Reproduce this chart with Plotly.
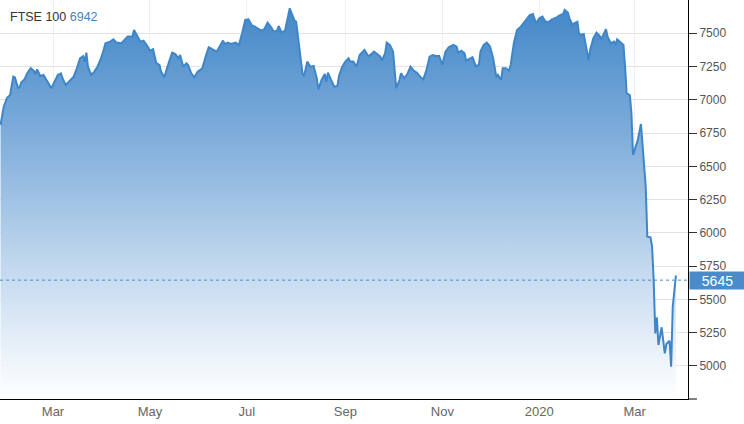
import plotly.graph_objects as go

title_name = "FTSE 100"
title_value = "6942"
last_label = 5645

dates = [
    "2019-01-27", "2019-01-29", "2019-01-31", "2019-02-02", "2019-02-04", "2019-02-05", "2019-02-07",
    "2019-02-08", "2019-02-09", "2019-02-11", "2019-02-13", "2019-02-15", "2019-02-17", "2019-02-18",
    "2019-02-19", "2019-02-21", "2019-02-23", "2019-02-25", "2019-02-28", "2019-03-02", "2019-03-04",
    "2019-03-06", "2019-03-07", "2019-03-09", "2019-03-12", "2019-03-14", "2019-03-16", "2019-03-18",
    "2019-03-20", "2019-03-21", "2019-03-22", "2019-03-23", "2019-03-25", "2019-03-27", "2019-03-29",
    "2019-03-31", "2019-04-02", "2019-04-03", "2019-04-06", "2019-04-08", "2019-04-10", "2019-04-13",
    "2019-04-15", "2019-04-17", "2019-04-20", "2019-04-21", "2019-04-23", "2019-04-25", "2019-04-27",
    "2019-04-29", "2019-05-01", "2019-05-03", "2019-05-05", "2019-05-07", "2019-05-08", "2019-05-10",
    "2019-05-12", "2019-05-15", "2019-05-17", "2019-05-19", "2019-05-20", "2019-05-22", "2019-05-24",
    "2019-05-25", "2019-05-27", "2019-05-29", "2019-05-31", "2019-06-03", "2019-06-05", "2019-06-07",
    "2019-06-10", "2019-06-12", "2019-06-16", "2019-06-17", "2019-06-19", "2019-06-21", "2019-06-24",
    "2019-06-26", "2019-06-28", "2019-06-30", "2019-07-02", "2019-07-04", "2019-07-06", "2019-07-08",
    "2019-07-10", "2019-07-12", "2019-07-14", "2019-07-16", "2019-07-18", "2019-07-20", "2019-07-21",
    "2019-07-23", "2019-07-25", "2019-07-26", "2019-07-28", "2019-07-29", "2019-07-31", "2019-08-01",
    "2019-08-03", "2019-08-05", "2019-08-06", "2019-08-08", "2019-08-10", "2019-08-12", "2019-08-14",
    "2019-08-15", "2019-08-17", "2019-08-19", "2019-08-20", "2019-08-21", "2019-08-23", "2019-08-25",
    "2019-08-27", "2019-08-28", "2019-08-30", "2019-09-01", "2019-09-03", "2019-09-04", "2019-09-06",
    "2019-09-08", "2019-09-10", "2019-09-12", "2019-09-13", "2019-09-15", "2019-09-16", "2019-09-19",
    "2019-09-21", "2019-09-23", "2019-09-24", "2019-09-26", "2019-09-27", "2019-09-29", "2019-10-01",
    "2019-10-02", "2019-10-03", "2019-10-05", "2019-10-06", "2019-10-08", "2019-10-10", "2019-10-12",
    "2019-10-14", "2019-10-16", "2019-10-18", "2019-10-20", "2019-10-22", "2019-10-24", "2019-10-26",
    "2019-10-28", "2019-10-30", "2019-11-01", "2019-11-03", "2019-11-05", "2019-11-08", "2019-11-10",
    "2019-11-11", "2019-11-13", "2019-11-15", "2019-11-16", "2019-11-18", "2019-11-20", "2019-11-22",
    "2019-11-24", "2019-11-25", "2019-11-27", "2019-11-29", "2019-12-01", "2019-12-03", "2019-12-04",
    "2019-12-05", "2019-12-06", "2019-12-08", "2019-12-09", "2019-12-11", "2019-12-13", "2019-12-14",
    "2019-12-16", "2019-12-18", "2019-12-20", "2019-12-22", "2019-12-24", "2019-12-26", "2019-12-28",
    "2019-12-29", "2019-12-30", "2020-01-01", "2020-01-03", "2020-01-05", "2020-01-07", "2020-01-09",
    "2020-01-11", "2020-01-12", "2020-01-14", "2020-01-16", "2020-01-17", "2020-01-19", "2020-01-20",
    "2020-01-22", "2020-01-23", "2020-01-25", "2020-01-26", "2020-01-27", "2020-01-29", "2020-01-30",
    "2020-02-01", "2020-02-02", "2020-02-04", "2020-02-06", "2020-02-08", "2020-02-09", "2020-02-11",
    "2020-02-12", "2020-02-13", "2020-02-15", "2020-02-17", "2020-02-18", "2020-02-19", "2020-02-21",
    "2020-02-23", "2020-02-24", "2020-02-25", "2020-02-27", "2020-02-28", "2020-02-29", "2020-03-03",
    "2020-03-05", "2020-03-06", "2020-03-08", "2020-03-09", "2020-03-11", "2020-03-12", "2020-03-13",
    "2020-03-14", "2020-03-15", "2020-03-16", "2020-03-18", "2020-03-20", "2020-03-21", "2020-03-23",
    "2020-03-24", "2020-03-25", "2020-03-27",
]

values = [
    6811, 6948, 7014, 7036, 7174, 7170, 7089,
    7094, 7129, 7154, 7204, 7237, 7217, 7194,
    7229, 7179, 7187, 7149, 7087, 7136, 7187,
    7199, 7162, 7112, 7149, 7174, 7237, 7312,
    7329, 7287, 7354, 7249, 7187, 7212, 7249,
    7305, 7380, 7425, 7437, 7455, 7430, 7425,
    7450, 7475, 7475, 7525, 7480, 7437, 7445,
    7412, 7369, 7380, 7275, 7262, 7212, 7169,
    7249, 7354, 7344, 7312, 7337, 7249, 7275,
    7262, 7199, 7169, 7212, 7237, 7324, 7395,
    7375, 7362, 7445, 7420, 7430, 7420, 7430,
    7412, 7500, 7600, 7605, 7562, 7550, 7537,
    7520, 7530, 7580, 7550, 7512, 7520, 7555,
    7505, 7520, 7575, 7688, 7655, 7595, 7587,
    7375, 7199, 7179, 7287, 7249, 7254, 7162,
    7079, 7149, 7194, 7136, 7204, 7149, 7099,
    7104, 7180, 7249, 7287, 7312, 7287, 7287,
    7249, 7337, 7362, 7375, 7337, 7329, 7362,
    7344, 7324, 7294, 7350, 7430, 7412, 7362,
    7199, 7087, 7149, 7199, 7162, 7194, 7249,
    7219, 7204, 7174, 7154, 7224, 7324, 7337,
    7329, 7329, 7262, 7362, 7395, 7412, 7400,
    7354, 7369, 7350, 7294, 7304, 7320, 7254,
    7262, 7362, 7412, 7430, 7400, 7312, 7229,
    7169, 7187, 7149, 7237, 7237, 7219, 7262,
    7425, 7525, 7545, 7575, 7612, 7637, 7645,
    7600, 7575, 7612, 7625, 7587, 7587, 7605,
    7612, 7620, 7637, 7645, 7675, 7655, 7612,
    7562, 7575, 7587, 7500, 7487, 7495, 7425,
    7299, 7375, 7462, 7505, 7480, 7455, 7512,
    7530, 7475, 7425, 7437, 7412, 7455, 7437,
    7412, 7249, 7049, 7036, 6899, 6585, 6698,
    6818, 6648, 6347, 5971, 5967, 5896, 5646,
    5245, 5366, 5158, 5291, 5095, 5165, 5190,
    4995, 5445, 5680,
]

x_tick_vals = ["2019-03-01", "2019-05-01", "2019-07-01", "2019-09-01", "2019-11-01", "2020-01-01", "2020-03-01"]
x_tick_text = ["Mar", "May", "Jul", "Sep", "Nov", "2020", "Mar"]
y_tick_vals = [5000, 5250, 5500, 5750, 6000, 6250, 6500, 6750, 7000, 7250, 7500]

x_range = ["2019-01-26 15:36", "2020-04-03 14:24"]
y_range = [4752, 7750]

line_color = "#3f86c8"
font_family = "Liberation Sans, Arial, sans-serif"

fig = go.Figure()
fig.add_trace(go.Scatter(
    x=dates, y=values, mode="lines",
    line=dict(color=line_color, width=2),
    fill="tozeroy",
    fillgradient=dict(
        type="vertical", start=y_range[0], stop=max(values),
        colorscale=[[0, "#ffffff"], [0.35, "#c0d7ee"], [0.7, "#7aaad9"], [1, "#4388c8"]],
    ),
    hoverinfo="skip", showlegend=False,
))

fig.add_shape(type="line", xref="paper", x0=0, x1=1, yref="y", y0=last_label, y1=last_label,
              line=dict(color="#4a8ccb", width=1, dash="dot"), layer="above")
# x-axis line extension past the y-axis
fig.add_shape(type="line", xref="paper", x0=1, x1=1.013, yref="paper", y0=0, y1=0,
              line=dict(color="black", width=1))

fig.add_annotation(xref="paper", yref="y", x=1, y=last_label, xanchor="left", yanchor="middle",
                   text=str(last_label), showarrow=False, bgcolor="#4a8ccb",
                   font=dict(color="white", size=14, family=font_family),
                   width=52, height=14, borderpad=1.5, xshift=1)

fig.add_annotation(xref="paper", yref="paper", x=0, y=1, xanchor="left", yanchor="top",
                   xshift=8, yshift=-8, showarrow=False,
                   text=f"<span style='color:#333'>{title_name}</span> <span style='color:#4a7fbf'>{title_value}</span>",
                   font=dict(size=12.5, family=font_family))

fig.update_layout(
    width=744, height=424,
    margin=dict(l=0, r=56, t=0, b=25),
    paper_bgcolor="white", plot_bgcolor="white",
    font=dict(family=font_family, color="#666"),
    xaxis=dict(
        type="date", range=x_range, tickvals=x_tick_vals, ticktext=x_tick_text,
        showgrid=True, gridcolor="#f0f0f0", gridwidth=1,
        showline=True, linecolor="black", linewidth=1,
        ticks="", tickfont=dict(size=13, color="#666"), zeroline=False, fixedrange=True,
    ),
    yaxis=dict(
        side="right", range=y_range, tickvals=y_tick_vals,
        showgrid=True, gridcolor="#e3e3e3", gridwidth=1,
        showline=True, linecolor="black", linewidth=1,
        ticks="outside", ticklen=8, tickcolor="#333",
        tickfont=dict(size=12, color="#555"), zeroline=False, fixedrange=True,
    ),
)

fig.write_html(
    "out.html",
    config={"displayModeBar": False, "staticPlot": True},
    post_script="document.body.style.margin='0';document.body.style.overflow='hidden';",
)
